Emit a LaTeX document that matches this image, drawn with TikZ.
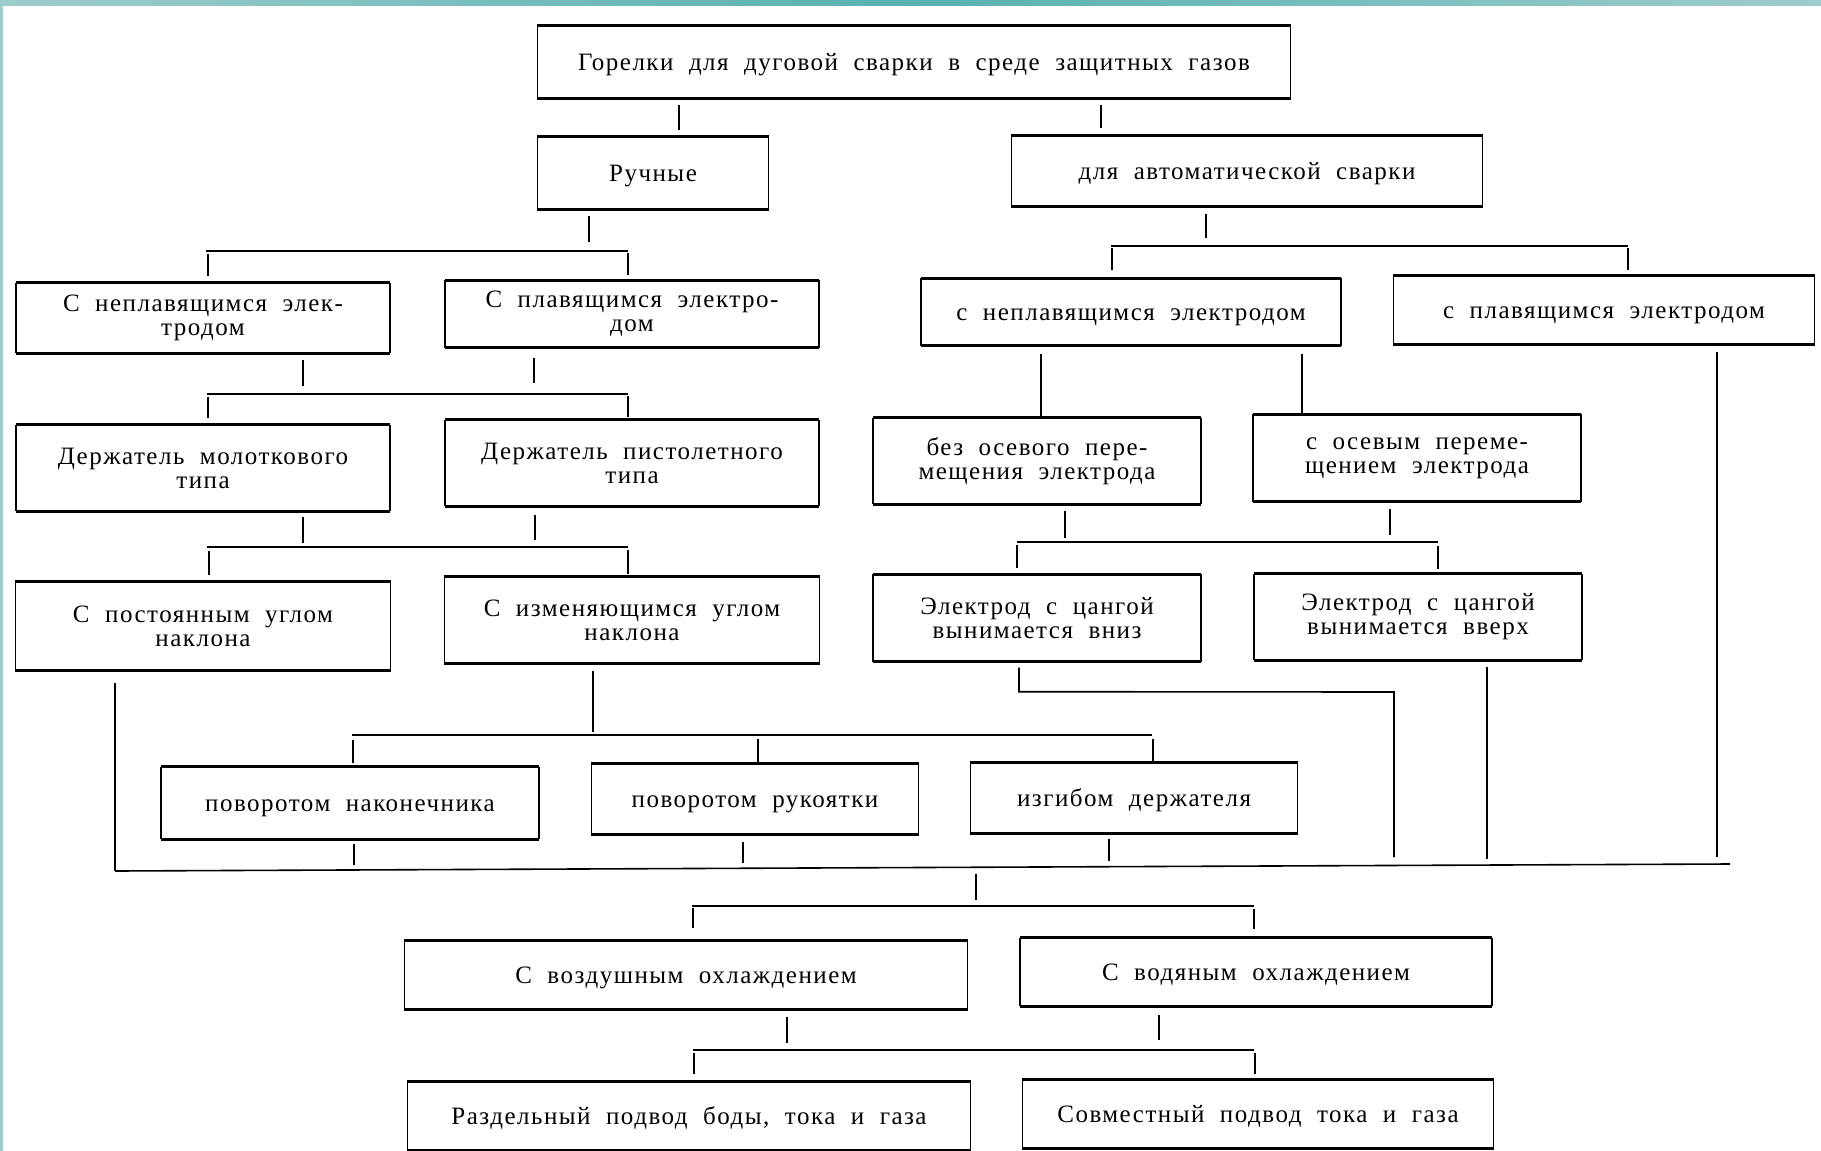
\documentclass[tikz,border=0pt]{standalone}
\usepackage{fontspec}
\setmainfont{Liberation Serif}[LetterSpace=6, WordSpace=2]
\usepackage{tikz}
\usetikzlibrary{calc}

\definecolor{tealL}{HTML}{9ECCCC}
\definecolor{tealD}{HTML}{58B1B1}

\begin{document}
\begin{tikzpicture}[x=1pt,y=-1pt]
        % Styles: boxes, their heavy rules and the thin connectors
        \tikzstyle{blok}=[inner sep=0pt, align=center, font=\fontsize{25}{24}\selectfont];
        \tikzstyle{oneline}=[blok, text height=17pt, text depth=0pt];
        \tikzstyle{rule}=[line width=2.8pt];
        \tikzstyle{side}=[line width=1.5pt];
        \tikzstyle{link}=[line width=1.6pt];

        % Page and its teal frame
        \useasboundingbox (0,0) rectangle (1821,1151);
        \fill[white] (0,0) rectangle (1821,1151);
        \shade[left color=tealL, right color=tealL, middle color=tealD] (0,0) rectangle (1821,5);
        \fill[tealL] (0,0) rectangle (3,1151);

        % Top level
        \node[oneline, minimum width=753, minimum height=72] (top) at (914,62) {Горелки для дуговой сварки в среде защитных газов};
        \node[oneline, minimum width=231, minimum height=72] (ruch) at (653,173) {Ручные};
        \node[oneline, minimum width=471, minimum height=71] (avt) at (1247,171) {для автоматической сварки};

        % Electrodes
        \node[blok, minimum width=374, minimum height=70] (neplL) at (203,318) {С неплавящимся элек-\\тродом};
        \node[blok, minimum width=374, minimum height=67] (plavL) at (632,314) {С плавящимся электро-\\дом};
        \node[oneline, minimum width=420, minimum height=67] (neplR) at (1131,312) {с неплавящимся электродом};
        \node[oneline, minimum width=421, minimum height=69] (plavR) at (1604,310) {с плавящимся электродом};

        % Holders and electrode feed
        \node[blok, minimum width=374, minimum height=86] (molot) at (203,468) {Держатель молоткового\\типа};
        \node[blok, minimum width=374, minimum height=86] (pistol) at (632,463) {Держатель пистолетного\\типа};
        \node[blok, minimum width=328, minimum height=86] (bezos) at (1037,461) {без осевого пере-\\мещения электрода};
        \node[blok, minimum width=328, minimum height=87] (sosev) at (1417,458) {с осевым переме-\\щением электрода};

        % Angle and collet
        \node[blok, minimum width=375, minimum height=88] (postug) at (203,626) {С постоянным углом\\наклона};
        \node[blok, minimum width=375, minimum height=87] (izmug) at (632,620) {С изменяющимся углом\\наклона};
        \node[blok, minimum width=328, minimum height=87] (vniz) at (1037,618) {Электрод с цангой\\вынимается вниз};
        \node[blok, minimum width=328, minimum height=86] (vverh) at (1418,617) {Электрод с цангой\\вынимается вверх};

        % Ways of changing the angle
        \node[oneline, minimum width=378, minimum height=72] (nakon) at (350,803) {поворотом наконечника};
        \node[oneline, minimum width=327, minimum height=71] (ruk) at (755,799) {поворотом рукоятки};
        \node[oneline, minimum width=327, minimum height=71] (izgib) at (1134,798) {изгибом держателя};

        % Cooling and supply
        \node[oneline, minimum width=563, minimum height=69] (vozd) at (686,975) {С воздушным охлаждением};
        \node[oneline, minimum width=472, minimum height=68] (vod) at (1256,972) {С водяным охлаждением};
        \node[oneline, minimum width=563, minimum height=68] (razd) at (689,1116) {Раздельный подвод боды, тока и газа};
        \node[oneline, minimum width=471, minimum height=68] (sovm) at (1258,1114) {Совместный подвод тока и газа};

        % Heavy rules above and below each box, thin sides
        \foreach \b in {top,ruch,avt,neplL,plavL,neplR,plavR,molot,pistol,bezos,sosev,postug,izmug,vniz,vverh,nakon,ruk,izgib,vozd,vod,razd,sovm} {
            \draw[rule] (\b.north west) -- (\b.north east);
            \draw[rule] (\b.south west) -- (\b.south east);
            \draw[side] (\b.north west) -- (\b.south west);
            \draw[side] (\b.north east) -- (\b.south east);
        }

        % Top box down to the two kinds
        \draw[link] (top.south -| 679,0) ++(0,7) -- ++(0,25);
        \draw[link] (top.south -| 1101,0) ++(0,7) -- ++(0,23);

        % Manual torches
        \draw[link] (ruch.south -| 589,0) ++(0,7) -- ++(0,26);
        \draw[link] (206,251) -- (628,251);
        \draw[link] (neplL.north -| 208,0) ++(0,-7) -- ++(0,-22);
        \draw[link] (plavL.north -| 628,0) ++(0,-5) -- ++(0,-22);

        \draw[link] (neplL.south -| 303,0) ++(0,7) -- ++(0,26);
        \draw[link] (plavL.south -| 534,0) ++(0,10) -- ++(0,25);
        \draw[link] (207,394) -- (628,394);
        \draw[link] (molot.north -| 208,0) ++(0,-7) -- ++(0,-21);
        \draw[link] (pistol.north -| 628,0) ++(0,-3) -- ++(0,-21);

        \draw[link] (molot.south -| 303,0) ++(0,6) -- ++(0,26);
        \draw[link] (pistol.south -| 535,0) ++(0,9) -- ++(0,25);
        \draw[link] (207,547) -- (628,547);
        \draw[link] (postug.north -| 209,0) ++(0,-7) -- ++(0,-24);
        \draw[link] (izmug.north -| 628,0) ++(0,-2) -- ++(0,-24);

        % Automatic torches
        \draw[link] (avt.south -| 1206,0) ++(0,7) -- ++(0,24);
        \draw[link] (1111,246) -- (1628,246);
        \draw[link] (neplR.north -| 1112,0) ++(0,-8) -- ++(0,-22);
        \draw[link] (plavR.north -| 1628,0) ++(0,-5) -- ++(0,-22);

        \draw[link] (neplR.south -| 1041,0) ++(0,8) -- (bezos.north -| 1041,0) ++(0,-6);
        \draw[link] (neplR.south -| 1302,0) ++(0,8) -- (sosev.north -| 1302,0) ++(0,-3);

        \draw[link] (bezos.south -| 1065,0) ++(0,7) -- ++(0,27);
        \draw[link] (sosev.south -| 1390,0) ++(0,7) -- ++(0,26);
        \draw[link] (1017,542) -- (1438,542);
        \draw[link] (vniz.north -| 1017,0) ++(0,-6) -- ++(0,-23);
        \draw[link] (vverh.north -| 1438,0) ++(0,-5) -- ++(0,-23);

        % Variable angle: three ways
        \draw[link] (izmug.south -| 593,0) ++(0,7) -- ++(0,61);
        \draw[link] (352,735) -- (1152,735);
        \draw[link] (nakon.north -| 353,0) ++(0,-4) -- ++(0,-23);
        \draw[link] (ruk.north -| 758,0) ++(0,-1) -- ++(0,-23);
        \draw[link] (izgib.north -| 1153,0) ++(0,0) -- ++(0,-23);

        % Common bus
        \coordinate (busL) at (115,871);
        \coordinate (busR) at (1730,864);
        \draw[link] (busL) -- (busR);
        \draw[link] (postug.south -| 115,0) ++(0,13) -- (busL);
        \draw[link] (nakon.south -| 354,0) ++(0,5) -- ++(0,21);
        \draw[link] (ruk.south -| 743,0) ++(0,7) -- ++(0,21);
        \draw[link] (izgib.south -| 1109,0) ++(0,5) -- ++(0,22);
        \draw[link] (vniz.south -| 1019,0) ++(0,6) -- ++(0,24) -- (1394,692) -- (1394,857);
        \draw[link] (vverh.south -| 1487,0) ++(0,7) -- (1487,859);
        \draw[link] (plavR.south -| 1717,0) ++(0,7) -- (1717,857);

        % Cooling
        \draw[link] (976,874) -- (976,900);
        \draw[link] (692,906) -- (1254,906);
        \draw[link] (vozd.north -| 693,0) ++(0,-12) -- ++(0,-20);
        \draw[link] (vod.north -| 1254,0) ++(0,-9) -- ++(0,-20);

        \draw[link] (vozd.south -| 787,0) ++(0,7) -- ++(0,26);
        \draw[link] (vod.south -| 1159,0) ++(0,9) -- ++(0,25);
        \draw[link] (693,1050) -- (1254,1050);
        \draw[link] (razd.north -| 694,0) ++(0,-8) -- ++(0,-21);
        \draw[link] (sovm.north -| 1255,0) ++(0,-6) -- ++(0,-21);
    \end{tikzpicture}
\end{document}
